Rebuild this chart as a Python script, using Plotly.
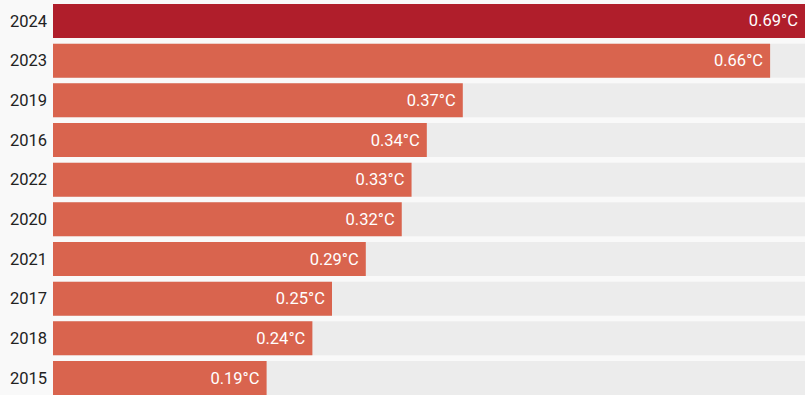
import plotly.graph_objects as go

years = ["2024", "2023", "2019", "2016", "2022", "2020", "2021", "2017", "2018", "2015"]
values = [0.690, 0.658, 0.376, 0.343, 0.329, 0.320, 0.287, 0.256, 0.238, 0.196]
labels = ["0.69°C", "0.66°C", "0.37°C", "0.34°C", "0.33°C", "0.32°C", "0.29°C", "0.25°C", "0.24°C", "0.19°C"]
highlight_year = "2024"

xmax = max(values)
idx = list(range(len(years)))
colors = ["#b01e2b" if y == highlight_year else "#d9644e" for y in years]

fig = go.Figure()
fig.add_trace(go.Bar(
    y=idx, x=[xmax] * len(years), orientation="h",
    marker=dict(color="#ececec", line=dict(width=0)),
    width=0.857, hoverinfo="skip", showlegend=False,
))
fig.add_trace(go.Bar(
    y=idx, x=values, orientation="h",
    marker=dict(color=colors, line=dict(width=0)),
    width=0.857,
    text=[t + "\u00a0" for t in labels], textposition="inside", insidetextanchor="end",
    textfont=dict(family="Roboto", size=16.5, color="white"),
    cliponaxis=False, showlegend=False,
))
fig.update_layout(
    width=805, height=395,
    margin=dict(l=53, r=0, t=0, b=0),
    barmode="overlay",
    paper_bgcolor="#f9f9f9", plot_bgcolor="#f9f9f9",
    font=dict(family="Roboto", size=16.5, color="#222222"),
    uniformtext=dict(minsize=16, mode="show"),
    xaxis=dict(range=[0, xmax], showgrid=False, zeroline=False, showticklabels=False, fixedrange=True),
    yaxis=dict(range=[9.428, -0.529], tickmode="array", tickvals=idx, ticktext=years,
               showgrid=False, zeroline=False, ticks="", ticklabelstandoff=5,
               tickfont=dict(family="Roboto", size=16.5, color="#222222")),
)
fig.write_html("out.html")
